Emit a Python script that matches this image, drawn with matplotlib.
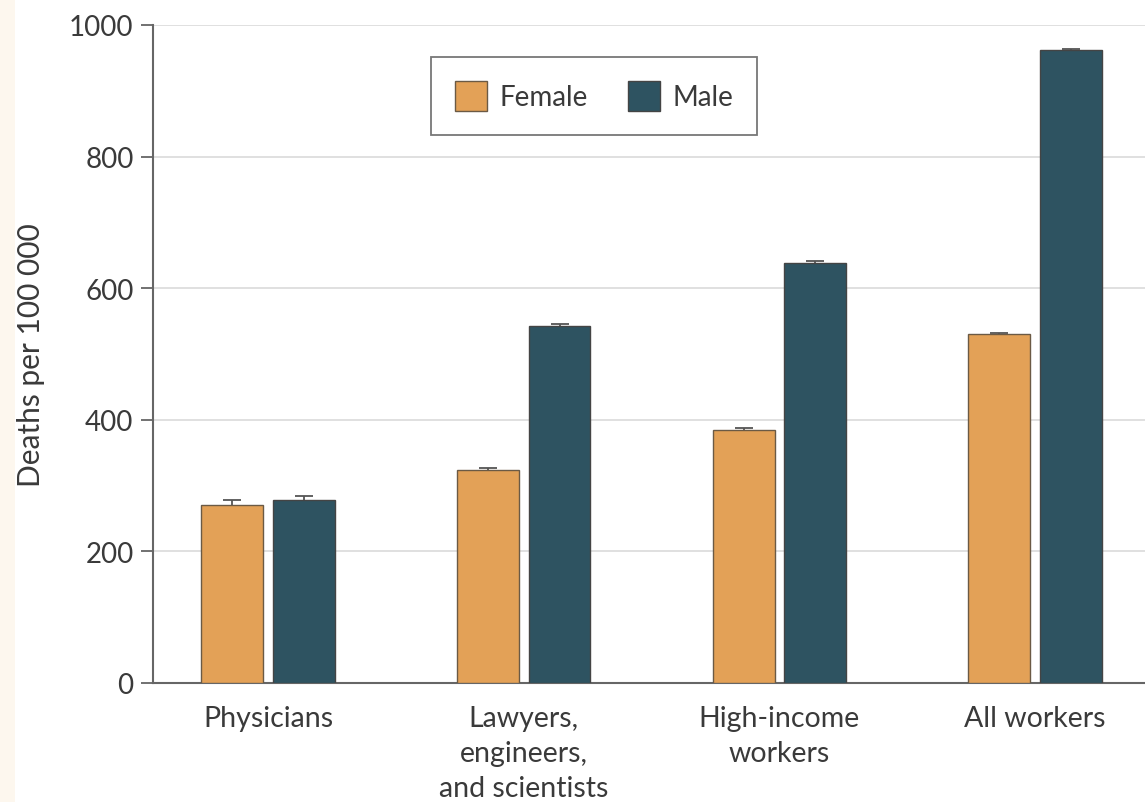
import matplotlib
matplotlib.use("Agg")
import matplotlib.pyplot as plt
import numpy as np

# Data
categories = ["Physicians", "Lawyers,\nengineers,\nand scientists", "High-income\nworkers", "All workers"]
female = [270, 323, 384, 530]
male = [278, 543, 639, 962]
female_err = [8, 3, 3, 2]
male_err = [6, 3, 2, 2]

orange = "#E3A157"
teal = "#2E5361"
text_col = "#3a3a3a"

plt.rcParams["font.family"] = ["Lato", "DejaVu Sans"]

fig = plt.figure(figsize=(11.45, 8.03), dpi=100)
fig.patch.set_facecolor("white")
# cream strip on the left edge
fig.patches.append(plt.Rectangle((0, 0), 15 / 1145, 1, transform=fig.transFigure,
                                 facecolor="#FDF7EE", edgecolor="none", zorder=0))

ax = fig.add_axes([153 / 1145, 119 / 803, 1 - 153 / 1145, 658 / 803])

x = np.arange(len(categories))
w = 0.242
off = 0.14
ax.bar(x - off, female, w, color=orange, edgecolor="#6b5a45",
       linewidth=1.0, label="Female", zorder=3)
ax.bar(x + off, male, w, color=teal, edgecolor="#444444",
       linewidth=1.0, label="Male", zorder=3)
# error bars behind the bars so only the upper half shows
ax.errorbar(x - off, female, yerr=female_err, fmt="none", ecolor="#555555",
            elinewidth=1.3, capsize=6.5, capthick=1.3, zorder=2)
ax.errorbar(x + off, male, yerr=male_err, fmt="none", ecolor="#555555",
            elinewidth=1.3, capsize=6.5, capthick=1.3, zorder=2)

ax.set_xlim(-0.45, 3.43)
ax.set_ylim(0, 1000)
ax.set_yticks([0, 200, 400, 600, 800, 1000])
ax.yaxis.grid(True, color="#dddddd", linewidth=1.3, zorder=0)
ax.set_axisbelow(True)

for s in ["top", "right"]:
    ax.spines[s].set_visible(False)
for s in ["left", "bottom"]:
    ax.spines[s].set_color("#666666")
    ax.spines[s].set_linewidth(1.5)

ax.set_xticks(x)
ax.set_xticklabels(categories, fontsize=20.5, color=text_col, linespacing=1.42)
ax.tick_params(axis="x", length=0, pad=16)
ax.tick_params(axis="y", length=9, width=1.3, color="#666666", labelsize=20,
               labelcolor=text_col, pad=5)

ax.set_ylabel("Deaths per 100 000", fontsize=21.5, color=text_col, labelpad=17)

leg = ax.legend(loc="upper left", bbox_to_anchor=(431 / 1145, 1 - 58 / 803),
                bbox_transform=fig.transFigure, ncol=2, fontsize=20, frameon=True,
                fancybox=False, edgecolor="#555555", handlelength=1.15, handleheight=1.3,
                columnspacing=1.45, handletextpad=0.45, borderpad=0.85, borderaxespad=0)
leg.get_frame().set_linewidth(1.3)
for t in leg.get_texts():
    t.set_color(text_col)

fig.savefig("out.png", dpi=100)
